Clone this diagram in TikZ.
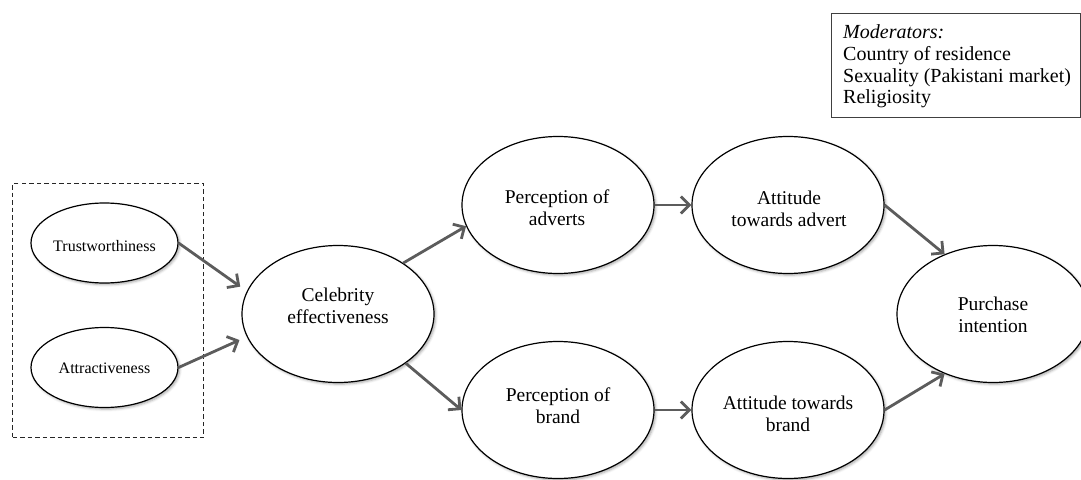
\documentclass[tikz,border=0pt]{standalone}
\usepackage{fontspec}
\setmainfont{Liberation Serif}
\usetikzlibrary{arrows.meta,shapes.geometric,shadows.blur}

\definecolor{arrowgray}{HTML}{5C5C5C}

\tikzset{
  bigoval/.style={ellipse, draw=black, line width=1.2pt, fill=white,
    minimum width=192pt, minimum height=137pt, inner sep=0pt,
    blur shadow={shadow xshift=1.6pt, shadow yshift=-1.6pt,
      shadow blur radius=2.5pt, shadow opacity=35}},
  smalloval/.style={bigoval, minimum width=147pt, minimum height=80pt},
  bigtext/.style={align=center, inner sep=0pt,
    font=\fontsize{19.5}{22}\selectfont},
  smalltext/.style={inner sep=0pt, font=\fontsize{16}{19}\selectfont},
  link/.style={draw=arrowgray, line width=2.8pt,
    -{Straight Barb[length=8.5pt,width=17pt,line width=2.8pt]}},
}

\begin{document}
\begin{tikzpicture}[x=1pt, y=-1pt]
  \useasboundingbox (0,0) rectangle (1081,479);
  \clip (0,0) rectangle (1081,479);

  % moderators box
  \node (modbox) [draw=black!75, line width=1pt, anchor=north west,
    minimum width=249pt, minimum height=104pt, inner sep=0pt] at (831,13) {};
  \node (modtext) [anchor=north west, align=left, inner sep=0pt,
    font=\fontsize{20}{21.8}\selectfont] at (843,24.5)
    {\textit{Moderators:}\\Country of residence\\Sexuality (Pakistani market)\\Religiosity};

  % dashed group of source constructs
  \node (group) [draw=black!85, line width=1pt, dash pattern=on 4.5pt off 3pt,
    anchor=north west, minimum width=191pt, minimum height=254pt,
    inner sep=0pt] at (12,183) {};

  % constructs
  \node (trust) [smalloval] at (104.5,243) {};
  \node (attr)  [smalloval] at (104.5,367.5) {};
  \node (celeb) [bigoval] at (338,314) {};
  \node (padv)  [bigoval] at (558,205) {};
  \node (aadv)  [bigoval] at (788,205) {};
  \node (pbr)   [bigoval] at (558,410) {};
  \node (abr)   [bigoval] at (788,410) {};
  \node (purch) [bigoval] at (993,314) {};

  % construct labels
  \node (trustT) [smalltext] at ([yshift=-3pt]trust.center) {Trustworthiness};
  \node (attrT)  [smalltext] at ([yshift=-1pt]attr.center) {Attractiveness};
  \node (celebT) [bigtext] at ([yshift=8pt]celeb.center) {Celebrity\\effectiveness};
  \node (padvT)  [bigtext] at ([xshift=-1pt,yshift=-3pt]padv.center) {Perception of\\adverts};
  \node (aadvT)  [bigtext] at ([xshift=1pt,yshift=-4pt]aadv.center) {Attitude\\towards advert};
  \node (pbrT)   [bigtext] at ([yshift=4pt]pbr.center) {Perception of\\brand};
  \node (abrT)   [bigtext] at ([yshift=-4pt]abr.center) {Attitude towards\\brand};
  \node (purchT) [bigtext] at ([yshift=-1pt]purch.center) {Purchase\\intention};

  % paths
  \draw[link, shorten >=8pt] (trust.east) -- (celeb.166);
  \draw[link, shorten >=8pt] (attr.east) -- (celeb.194);
  \draw[link] (celeb.38) -- (padv.193);
  \draw[link] (celeb.324) -- (pbr.west);
  \draw[link] (padv.east) -- (aadv.west);
  \draw[link] (pbr.east) -- (abr.west);
  \draw[link] (aadv.east) -- (purch.129);
  \draw[link] (abr.east) -- (purch.231);
\end{tikzpicture}
\end{document}
